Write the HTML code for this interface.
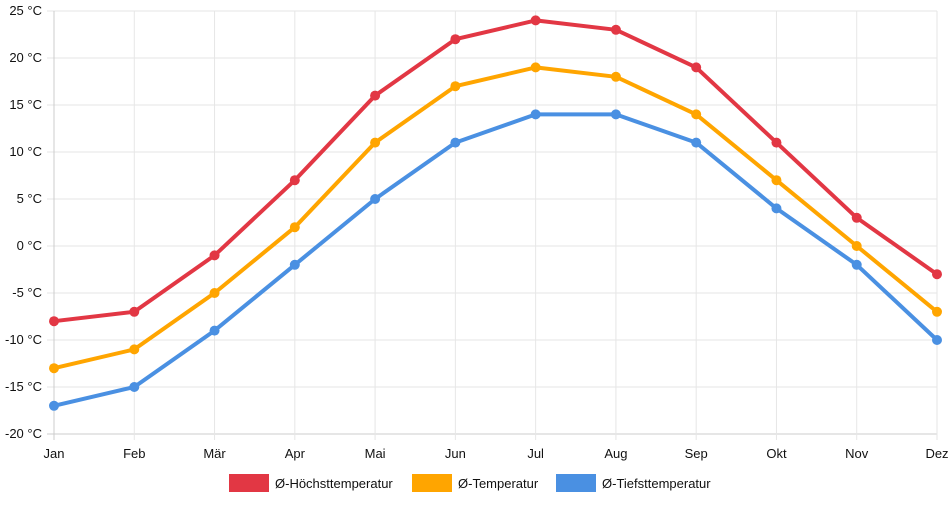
<!DOCTYPE html>
<html><head><meta charset="utf-8"><style>
body{margin:0;background:#fff;width:952px;height:500px;overflow:hidden}
text{font-family:"Liberation Sans",sans-serif;font-size:13px;fill:#111}
</style></head><body>
<svg id="c" width="952" height="500"></svg>
<script>
const months=["Jan","Feb","Mär","Apr","Mai","Jun","Jul","Aug","Sep","Okt","Nov","Dez"];
const hiVals=[-8,-7,-1,7,16,22,24,23,19,11,3,-3];
const avgVals=[-13,-11,-5,2,11,17,19,18,14,7,0,-7];
const loVals=[-17,-15,-9,-2,5,11,14,14,11,4,-2,-10];
const yTicks=[25,20,15,10,5,0,-5,-10,-15,-20];
const seriesNames=["Ø-Höchsttemperatur","Ø-Temperatur","Ø-Tiefsttemperatur"];
const NS="http://www.w3.org/2000/svg",svg=document.getElementById('c');
const L=54,R=937,T=11,B=434,ymin=-20,ymax=25;
const x=i=>L+i*(R-L)/(months.length-1);
const y=v=>B-(v-ymin)/(ymax-ymin)*(B-T);
function mk(t,a,p){const e=document.createElementNS(NS,t);for(const k in a)e.setAttribute(k,a[k]);(p||svg).appendChild(e);return e;}
const grid=mk('g',{});


yTicks.forEach(v=>{
 const l=mk('line',{x1:47,x2:R,y1:y(v),y2:y(v),stroke:v===ymin?'#ccc':'#e6e6e6','stroke-width':1},grid);
 
 
 const t=mk('text',{x:42,y:y(v)+4,'text-anchor':'end'});
 t.textContent=v+' °C';
 
 
});
months.forEach((m,i)=>{
 const l=mk('line',{x1:x(i),x2:x(i),y1:T,y2:B+6,stroke:i===0?'#ccc':'#e6e6e6','stroke-width':1},grid);
 
 
 const t=mk('text',{x:x(i),y:B+24,'text-anchor':'middle'});
 t.textContent=m;
 
 
});
const colors=["#e23744","#ffa500","#4a90e2"];
[hiVals,avgVals,loVals].forEach((vals,s)=>{
 const g=mk('g',{});
 
 
 const p=mk('polyline',{points:vals.map((v,i)=>x(i)+','+y(v)).join(' '),fill:'none',stroke:colors[s],'stroke-width':4,'stroke-linejoin':'round'},g);
 
 
 vals.forEach((v,i)=>{
  const c=mk('circle',{cx:x(i),cy:y(v),r:5,fill:colors[s]},g);
  
  
 });
});
const lx=[229,412,556];
seriesNames.forEach((n,s)=>{
 const g=mk('g',{});
 
 
 mk('rect',{x:lx[s],y:474,width:40,height:18,fill:colors[s]},g);
 const t=mk('text',{x:lx[s]+46,y:488},g);
 t.textContent=n;
});
</script>
</body></html>
